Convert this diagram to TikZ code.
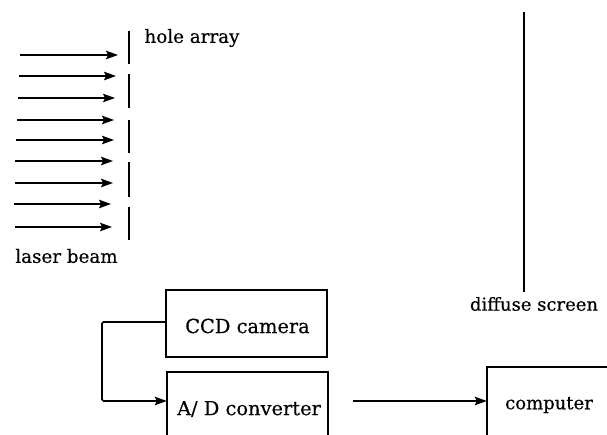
\documentclass[tikz,border=0pt]{standalone}
\usepackage{fontspec}
\setmainfont{DejaVu Serif}[FakeBold=0.35]
\usetikzlibrary{arrows.meta}
\tikzset{
  x=1pt,y=-1pt,
  line/.style={line width=1.6pt,black},
  arr/.style={line,-{Stealth[length=12pt,width=8.5pt,inset=2pt]}},
  lab/.style={inner sep=0pt,font=\fontsize{18.3}{20}\selectfont,text=black},
  biglab/.style={lab,font=\fontsize{19.4}{21}\selectfont},
  box/.style={inner sep=0pt,minimum width=161pt}
}
\begin{document}
\begin{tikzpicture}
\useasboundingbox (0,0) rectangle (607,435);
% hole array
\foreach \a/\b in {31/64,74/108,120/153,162/197,207/240}
  \draw[line] (129,\a) -- (129,\b);
% laser beam arrows
\foreach \s/\e/\y [count=\i] in {20/118/55,19/116/76,18/115/98,17/114/120,16/114/140,15/113/161,15/113/183,14/111/204,15/112/227}{
  \coordinate (bs\i) at (\s,\y);
  \coordinate (be\i) at (\e,\y);
  \draw[arr] (bs\i) -- (be\i);
}
\node[lab] (hole) at (192,38) {hole array};
\node[lab] (laser) at (66.5,256) {laser beam};
% diffuse screen
\coordinate (st) at (524,12);
\coordinate (sb) at (524,292);
\draw[line] (st) -- (sb);
\node[lab,font=\fontsize{18}{20}\selectfont] (screen) at (534,304) {diffuse screen};
% CCD camera
\node[box,draw,line,minimum height=67pt] (ccd) at (246.5,323.5) {};
\node[biglab] (ccdt) at (247.5,326) {CCD camera};
% A/D converter (open at the bottom)
\node[box,minimum height=58pt] (ad) at (247.5,401) {};
\draw[line] ([yshift=-5pt]ad.south west) -- (ad.north west) -- (ad.north east) -- ([yshift=-5pt]ad.south east);
\node[biglab] (adt) at (249,409) {A/ D converter};
% computer (open at the bottom and right)
\node[inner sep=0pt,minimum width=120pt,minimum height=68pt] (comp) at (547,401) {};
\draw[line] (comp.south west) -- (comp.north west) -- (comp.north east);
\node[lab,font=\fontsize{18}{20}\selectfont] (compt) at (549,405) {computer};
% connectors
\coordinate (bend) at (102,322);
\coordinate (bend2) at (102,401);
\draw[arr,rounded corners=1.5pt] (ccd.west |- bend) -- (bend) -- (bend2) -- (ad.west);
\coordinate (adout) at (353,401);
\draw[arr] (adout) -- (comp.west);
\end{tikzpicture}
\end{document}
